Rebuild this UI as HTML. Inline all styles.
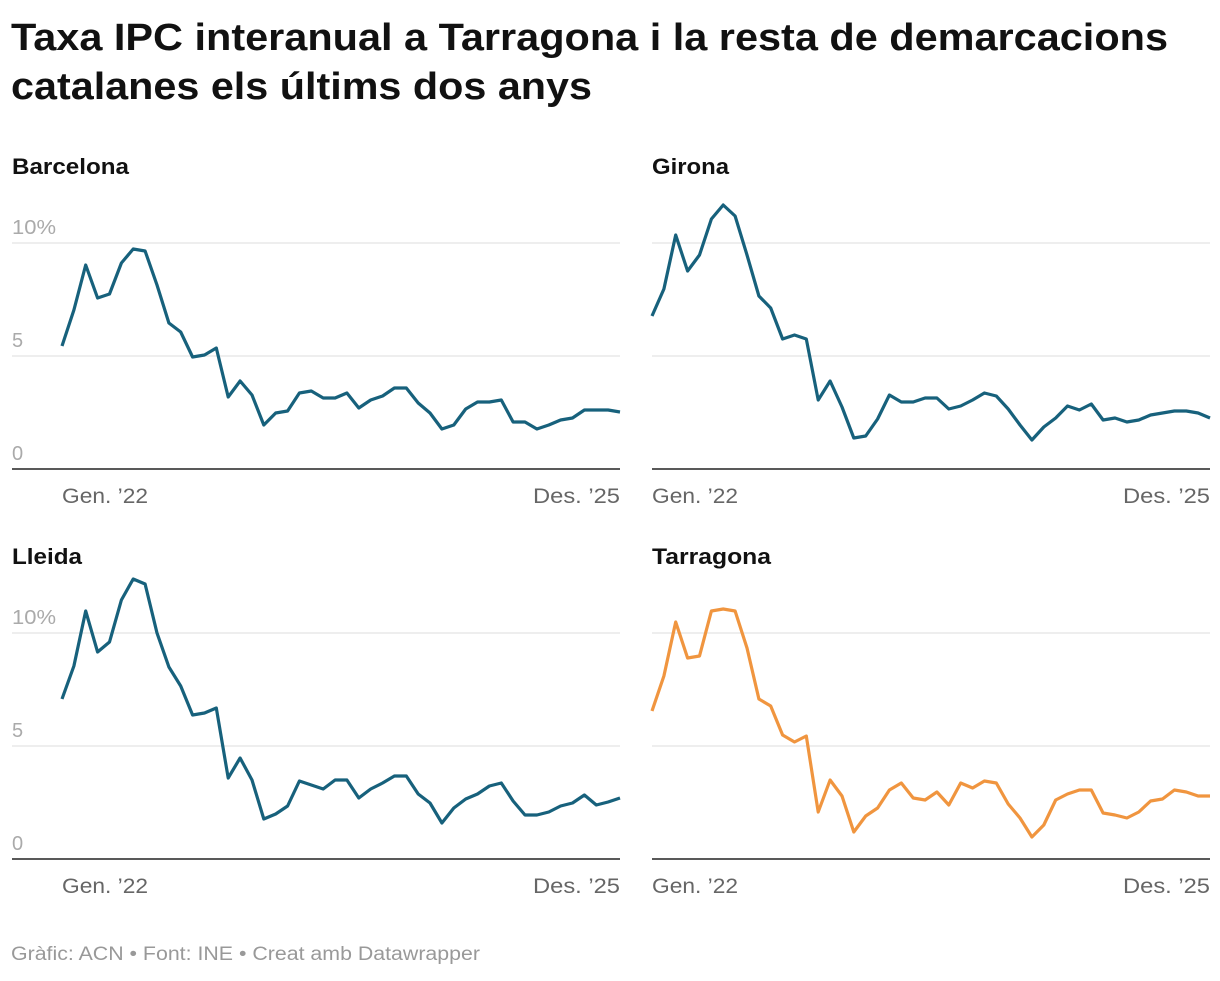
<!DOCTYPE html>
<html><head><meta charset="utf-8"><style>
body{margin:0;background:#fff;width:1220px;height:976px;overflow:hidden;font-family:"Liberation Sans",Arial,sans-serif}
</style></head><body>
<svg width="1220" height="976" viewBox="0 0 1220 976" xmlns="http://www.w3.org/2000/svg" font-family="Liberation Sans, Arial, sans-serif">
<text x="11" y="50" font-size="38" font-weight="bold" fill="#111" textLength="1157" lengthAdjust="spacingAndGlyphs">Taxa IPC interanual a Tarragona i la resta de demarcacions</text>
<text x="11" y="99" font-size="38" font-weight="bold" fill="#111" textLength="581" lengthAdjust="spacingAndGlyphs">catalanes els últims dos anys</text>
<g id="panels"></g>
<text x="11" y="960" font-size="19" fill="#999" textLength="469" lengthAdjust="spacingAndGlyphs">Gràfic: ACN • Font: INE • Creat amb Datawrapper</text>
</svg>
<script>
const P=[
{t:"Barcelona",w:117,c:"#17617c",y:0,d:[346,310,265,298,294,263,249,251,285,323,332,357,355,348,397,381,395,425,413,411,393,391,398,398,393,408,400,396,388,388,403,413,429,425,409,402,402,400,422,422,429,425,420,418,410,410,410,412]},
{t:"Girona",w:77,c:"#17617c",y:0,d:[316,289,235,271,255,219,205,216,255,296,308,339,335,339,400,381,407,438,436,419,395,402,402,398,398,409,406,400,393,396,409,425,440,427,418,406,410,404,420,418,422,420,415,413,411,411,413,418]},
{t:"Lleida",w:70,c:"#17617c",y:390,d:[699,666,611,652,642,600,579,584,633,667,686,715,713,708,778,758,780,819,814,806,781,785,789,780,780,798,789,783,776,776,794,803,823,808,799,794,786,783,801,815,815,812,806,803,795,805,802,798].map(v=>v-390)},
{t:"Tarragona",w:119,c:"#f0953f",y:390,d:[711,676,622,658,656,611,609,611,648,699,706,735,742,736,812,780,796,832,816,808,790,783,798,800,792,805,783,788,781,783,804,818,837,825,800,794,790,790,813,815,818,812,801,799,790,792,796,796].map(v=>v-390)}];
let s="";
P.forEach((p,i)=>{
 const left=i%2?652:12, x0=i%2?652:62, x1=i%2?1210:620, oy=p.y;
 s+=`<text x="${left}" y="${174+oy}" font-size="22" font-weight="bold" fill="#111" textLength="${p.w}" lengthAdjust="spacingAndGlyphs">${p.t}</text>`;
 [243,356].forEach(g=>s+=`<line x1="${left}" x2="${x1}" y1="${g+oy}" y2="${g+oy}" stroke="#ddd" stroke-width="1"/>`);
 s+=`<line x1="${left}" x2="${x1}" y1="${469+oy}" y2="${469+oy}" stroke="#222" stroke-width="1.5"/>`;
 if(i%2==0){
  s+=`<text x="12" y="${234+oy}" font-size="20" fill="#aaa" textLength="44" lengthAdjust="spacingAndGlyphs">10%</text><text x="12" y="${347+oy}" font-size="20" fill="#aaa">5</text><text x="12" y="${460+oy}" font-size="20" fill="#aaa">0</text>`;
 }
 s+=`<text x="${x0}" y="${503+oy}" font-size="21" fill="#666" textLength="86" lengthAdjust="spacingAndGlyphs">Gen. ’22</text><text x="${x1-87}" y="${503+oy}" font-size="21" fill="#666" textLength="87" lengthAdjust="spacingAndGlyphs">Des. ’25</text>`;
 const st=(x1-x0)/47;
 s+=`<polyline fill="none" stroke="${p.c}" stroke-width="3.2" stroke-linejoin="round" points="${p.d.map((v,k)=>(x0+k*st).toFixed(1)+","+(v+oy)).join(" ")}"/>`;
});
document.getElementById("panels").innerHTML=s;
</script>
</body></html>
